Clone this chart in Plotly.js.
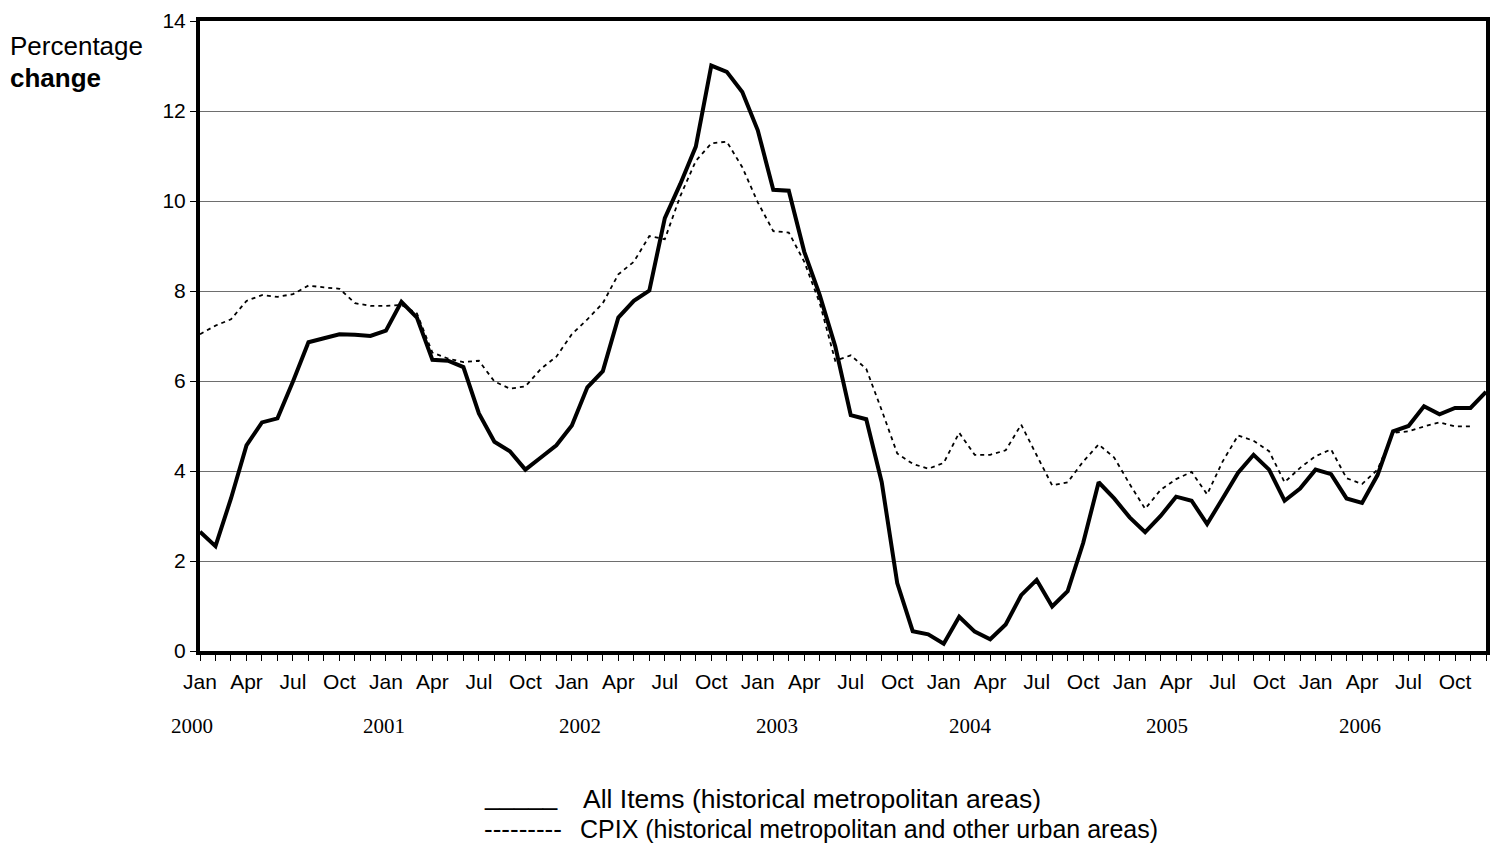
<!DOCTYPE html>
<html>
<head>
<meta charset="utf-8">
<script src="https://cdn.plot.ly/plotly-3.0.1.min.js"></script>
<style>
  html, body { margin: 0; padding: 0; background: #fff; }
  #chart { width: 1494px; height: 843px; }
</style>
</head>
<body>
<div id="chart"></div>
<script>
// ---- data ----
const years = ['2000', '2001', '2002', '2003', '2004', '2005', '2006'];
const monthNames = ['Jan', 'Feb', 'Mar', 'Apr', 'May', 'Jun', 'Jul', 'Aug', 'Sep', 'Oct', 'Nov', 'Dec'];
const quarterLabels = ['Jan', 'Apr', 'Jul', 'Oct'];

const allItems = [
  2.65, 2.33, 3.39, 4.57, 5.08, 5.17, 5.99, 6.86, 6.95, 7.04, 7.03, 7.00,
  7.12, 7.76, 7.41, 6.47, 6.45, 6.31, 5.28, 4.65, 4.44, 4.03, 4.30, 4.57,
  5.01, 5.86, 6.22, 7.41, 7.78, 8.01, 9.62, 10.38, 11.21, 13.01, 12.87, 12.42,
  11.57, 10.25, 10.23, 8.87, 7.91, 6.77, 5.24, 5.15, 3.75, 1.51, 0.44, 0.37,
  0.16, 0.76, 0.43, 0.26, 0.59, 1.24, 1.58, 0.99, 1.33, 2.40, 3.75, 3.39,
  2.97, 2.64, 3.00, 3.43, 3.34, 2.82, 3.39, 3.96, 4.36, 4.03, 3.34, 3.61,
  4.03, 3.93, 3.39, 3.29, 3.91, 4.88, 5.00, 5.44, 5.26, 5.40, 5.40, 5.76
];

const cpix = [
  7.04, 7.23, 7.37, 7.78, 7.91, 7.87, 7.93, 8.12, 8.08, 8.05, 7.73, 7.67,
  7.67, 7.69, 7.50, 6.63, 6.50, 6.42, 6.45, 5.99, 5.83, 5.88, 6.27, 6.54,
  7.04, 7.37, 7.73, 8.37, 8.65, 9.22, 9.15, 10.11, 10.89, 11.28, 11.32, 10.75,
  9.97, 9.33, 9.30, 8.65, 7.73, 6.45, 6.57, 6.27, 5.35, 4.39, 4.16, 4.05,
  4.18, 4.85, 4.36, 4.36, 4.46, 5.03, 4.35, 3.68, 3.75, 4.21, 4.59, 4.30,
  3.71, 3.16, 3.58, 3.82, 3.98, 3.48, 4.21, 4.79, 4.67, 4.44, 3.75, 4.07,
  4.33, 4.48, 3.84, 3.71, 4.03, 4.85, 4.88, 4.99, 5.08, 4.99, 4.99
];

const legendAll = 'All Items (historical metropolitan areas)';
const legendCpix = 'CPIX (historical metropolitan and other urban areas)';
const legendAllMark = '_____';
const legendCpixMark = '---------';
const yTitle1 = 'Percentage';
const yTitle2 = 'change';

// ---- build categories ----
const categories = [];
years.forEach(y => monthNames.forEach(m => categories.push(m + ' ' + y)));
const tickText = categories.map(c => {
  const m = c.split(' ')[0];
  return quarterLabels.includes(m) ? m : '';
});

// ---- layout geometry (pixels) ----
const W = 1494, H = 843;
const L = 200, R = 8, T = 21, B = 192;
const PW = W - L - R, PH = H - T - B;
const px = x => (x - L) / PW;
const py = y => (H - B - y) / PH;
const yearCentersPx = [192, 384, 580, 777, 970, 1167, 1360];
const SANS = 'Liberation Sans, Arial, sans-serif';

const traces = [
  {
    x: categories, y: allItems, type: 'scatter', mode: 'lines',
    line: { color: '#000', width: 4 }, hoverinfo: 'skip'
  },
  {
    x: categories.slice(0, cpix.length), y: cpix, type: 'scatter', mode: 'lines',
    line: { color: '#000', width: 1.8, dash: '4px,4px' }, hoverinfo: 'skip'
  }
];

const annotations = [];
years.forEach((y, i) => annotations.push({
  xref: 'paper', yref: 'paper', x: px(yearCentersPx[i]), y: py(726),
  xanchor: 'center', yanchor: 'middle', showarrow: false, text: y,
  font: { family: 'Liberation Serif, Times New Roman, serif', size: 21, color: '#000' }
}));
annotations.push(
  { xref: 'paper', yref: 'paper', x: px(8), y: py(46), xanchor: 'left', yanchor: 'middle',
    showarrow: false, text: yTitle1,
    font: { family: SANS, size: 26, color: '#000' } },
  { xref: 'paper', yref: 'paper', x: px(8), y: py(78), xanchor: 'left', yanchor: 'middle',
    showarrow: false, text: '<b>' + yTitle2 + '</b>',
    font: { family: SANS, size: 26, color: '#000' } },
  { xref: 'paper', yref: 'paper', x: px(482), y: py(796), xanchor: 'left', yanchor: 'middle',
    showarrow: false, text: legendAllMark,
    font: { family: SANS, size: 26, color: '#000' } },
  { xref: 'paper', yref: 'paper', x: px(581), y: py(799), xanchor: 'left', yanchor: 'middle',
    showarrow: false, text: legendAll,
    font: { family: SANS, size: 26.5, color: '#000' } },
  { xref: 'paper', yref: 'paper', x: px(482), y: py(829), xanchor: 'left', yanchor: 'middle',
    showarrow: false, text: legendCpixMark,
    font: { family: SANS, size: 26, color: '#000' } },
  { xref: 'paper', yref: 'paper', x: px(578), y: py(829), xanchor: 'left', yanchor: 'middle',
    showarrow: false, text: legendCpix,
    font: { family: SANS, size: 25, color: '#000' } }
);

const layout = {
  width: W, height: H,
  margin: { l: L, r: R, t: T, b: B, pad: 0 },
  paper_bgcolor: '#fff', plot_bgcolor: '#fff',
  showlegend: false,
  font: { family: SANS, size: 21, color: '#000' },
  xaxis: {
    type: 'category',
    range: [0, categories.length - 1],
    tickmode: 'array', tickvals: categories, ticktext: tickText,
    ticks: 'outside', ticklen: 6, tickwidth: 1, tickcolor: '#000',
    tickangle: 0,
    showgrid: false, zeroline: false,
    showline: true, linecolor: '#000', linewidth: 4, mirror: true,
    tickfont: { size: 21, family: SANS, color: '#000' },
    ticklabelstandoff: 3,
    fixedrange: true
  },
  yaxis: {
    range: [0, 14], dtick: 2, tick0: 0,
    ticks: 'outside', ticklen: 6, tickwidth: 1, tickcolor: '#000',
    showgrid: true, gridcolor: '#6e6e6e', gridwidth: 1,
    zeroline: false,
    showline: true, linecolor: '#000', linewidth: 4, mirror: true,
    tickfont: { size: 21, family: SANS, color: '#000' },
    fixedrange: true
  },
  annotations: annotations
};

Plotly.newPlot('chart', traces, layout, { staticPlot: true, displayModeBar: false });
</script>
</body>
</html>
